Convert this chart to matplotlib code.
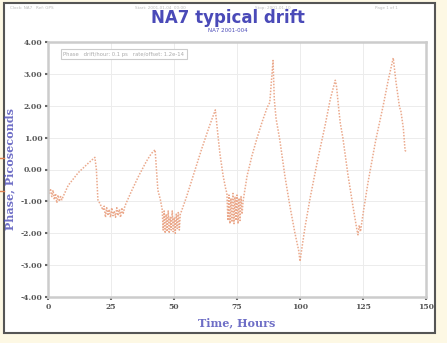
import matplotlib.pyplot as plt
from matplotlib.patches import Rectangle
from matplotlib.lines import Line2D

# time (hours) and phase (picoseconds)
hours = [0, 0.5, 1, 1.5, 2, 2.5, 3, 3.5, 4, 4.5, 5, 5.5, 6,
         8, 10, 12, 14, 16, 18.6,
         19.2, 19.8, 20.8, 21.8,
         22.3, 22.8, 23.3, 23.8, 24.3, 24.8, 25.3, 25.8, 26.3, 26.8, 27.3, 27.8,
         28.3, 28.8, 29.3, 29.8, 30.5,
         33, 36, 39, 41, 42.5,
         43.6, 44.6, 45.3, 45.7, 46.1, 46.5, 46.9, 47.3, 47.7, 48.1, 48.5, 48.9,
         49.3, 49.7, 50.1, 50.5, 50.9, 51.3, 51.7, 52.1, 52.5, 53,
         55, 58, 61, 64, 66.4,
         67, 67.6, 68.3, 69.5, 70.5,
         71, 71.4, 71.8, 72.2, 72.6, 73, 73.4, 73.8, 74.2, 74.6, 75, 75.4, 75.8,
         76.2, 76.6, 77, 77.4,
         79, 81, 83, 85, 87, 88, 89.3, 89.8, 90.5, 92,
         94, 96, 98, 99.5, 100, 100.5,
         102, 104, 107, 110, 112, 114,
         114.5, 115.5, 116, 117, 119, 121, 122.5, 123, 123.5, 124,
         125, 127, 130, 133, 135, 137,
         138, 139.5, 140, 141, 141.7, 142.2]
phase = [-0.55, -0.75, -0.6, -0.85, -0.65, -0.95, -0.75, -1.05, -0.8, -1.0, -0.85, -0.95, -0.85,
         -0.5, -0.3, -0.1, 0.05, 0.2, 0.38,
         0.0, -0.95, -1.1, -1.27,
         -1.15, -1.5, -1.2, -1.45, -1.25, -1.5, -1.2, -1.45, -1.3, -1.5, -1.2, -1.45,
         -1.25, -1.5, -1.2, -1.4, -1.15,
         -0.7, -0.2, 0.25, 0.5, 0.62,
         -0.65, -0.95, -1.25, -1.9, -1.3, -2.0, -1.4, -1.95, -1.3, -2.0, -1.5, -1.9,
         -1.3, -1.95, -1.5, -2.0, -1.4, -1.85, -1.35, -1.9, -1.4, -1.3,
         -0.85, -0.1, 0.65, 1.35, 1.87,
         1.4, 0.95, 0.45, -0.2, -0.6,
         -0.75, -1.6, -0.8, -1.7, -0.9, -1.65, -0.75, -1.7, -0.85, -1.6, -0.8, -1.7, -0.9,
         -1.6, -0.85, -1.4, -1.0,
         -0.2, 0.45, 1.0, 1.5, 1.95, 2.1, 3.42, 2.2, 1.6, 0.92,
         -0.2, -1.15, -2.0, -2.55, -2.88, -2.6,
         -1.8, -0.9, 0.3, 1.4, 2.2, 2.8,
         2.6, 1.8, 1.45, 1.0, -0.15, -1.15, -1.85, -2.05, -1.75, -1.95,
         -1.4, -0.4, 0.9, 2.0, 2.8, 3.5,
         2.8, 1.95, 1.85, 1.3, 0.6, 0.55]

x_ticks = [0, 25, 50, 75, 100, 125, 150]
y_ticks = [4, 3, 2, 1, 0, -1, -2, -3, -4]

blue = '#4a4ab8'

fig = plt.figure(figsize=(4.47, 3.43), dpi=100, facecolor='#fdf8e4')

# white page panel with dark border
fig.add_artist(Rectangle((4 / 447, 10 / 343), 431 / 447, 330 / 343, transform=fig.transFigure,
                         facecolor='white', edgecolor='#555555', linewidth=1.5, zorder=-5))
# orange marks on the page margin
for yy in [158, 191]:
    fig.add_artist(Line2D([0, 4 / 447], [1 - yy / 343] * 2, transform=fig.transFigure,
                          color='#e08050', linewidth=1.0))

ax = fig.add_axes([48 / 447, 1 - 297 / 343, 378 / 447, 255 / 343])
ax.plot(hours, phase, color='#eba98c', linewidth=1.1, linestyle=(0, (1, 1)))

ax.set_xlim(0, 150)
ax.set_ylim(-4, 4)
ax.set_xticks(x_ticks)
ax.set_xticklabels([str(t) for t in x_ticks], fontsize=5.5, fontweight='bold',
                   color='#555555', family='serif')
ax.set_yticks(y_ticks)
ax.set_yticklabels(['%.2f' % v for v in y_ticks], fontsize=5.5, fontweight='bold',
                   color='#555555', family='serif')
ax.tick_params(length=2, width=1.5, color='#666666', pad=2)
ax.grid(True, color='#ececec', linewidth=0.7)
for s in ax.spines.values():
    s.set_color('#cccccc')
    s.set_linewidth(1.8)

ax.set_xlabel('Time, Hours', fontsize=8, fontweight='bold', color=blue, family='serif',
              labelpad=5, alpha=0.8)
ax.set_ylabel('Phase, Picoseconds', fontsize=8, fontweight='bold', color=blue, family='serif',
              labelpad=4, alpha=0.8)

# legend-like box (text illegible in the scan)
ax.text(6, 3.62, 'Phase   drift/hour: 0.1 ps   rate/offset: 1.2e-14', fontsize=3.8,
        color='#aaaaaa', va='center',
        bbox=dict(facecolor='white', edgecolor='#cccccc', linewidth=0.8, pad=1.8))

fig.text(228 / 447, 1 - 18 / 343, 'NA7 typical drift', ha='center', va='center',
         fontsize=12, color=blue, fontweight='semibold')
fig.text(228 / 447, 1 - 31 / 343, 'NA7 2001-004', ha='center', va='center',
         fontsize=4, color=blue)

# tiny header line
header = [(10, 'Clock: NA7   Ref: GPS'), (135, 'Start: 2001-01-04  00:00'),
          (255, 'Stop: 2001-01-10'), (375, 'Page 1 of 1')]
for xx, s in header:
    fig.text(xx / 447, 1 - 8 / 343, s, fontsize=3, color='#bbbbbb', va='center')

fig.savefig('out.png', dpi=100, facecolor=fig.get_facecolor())
